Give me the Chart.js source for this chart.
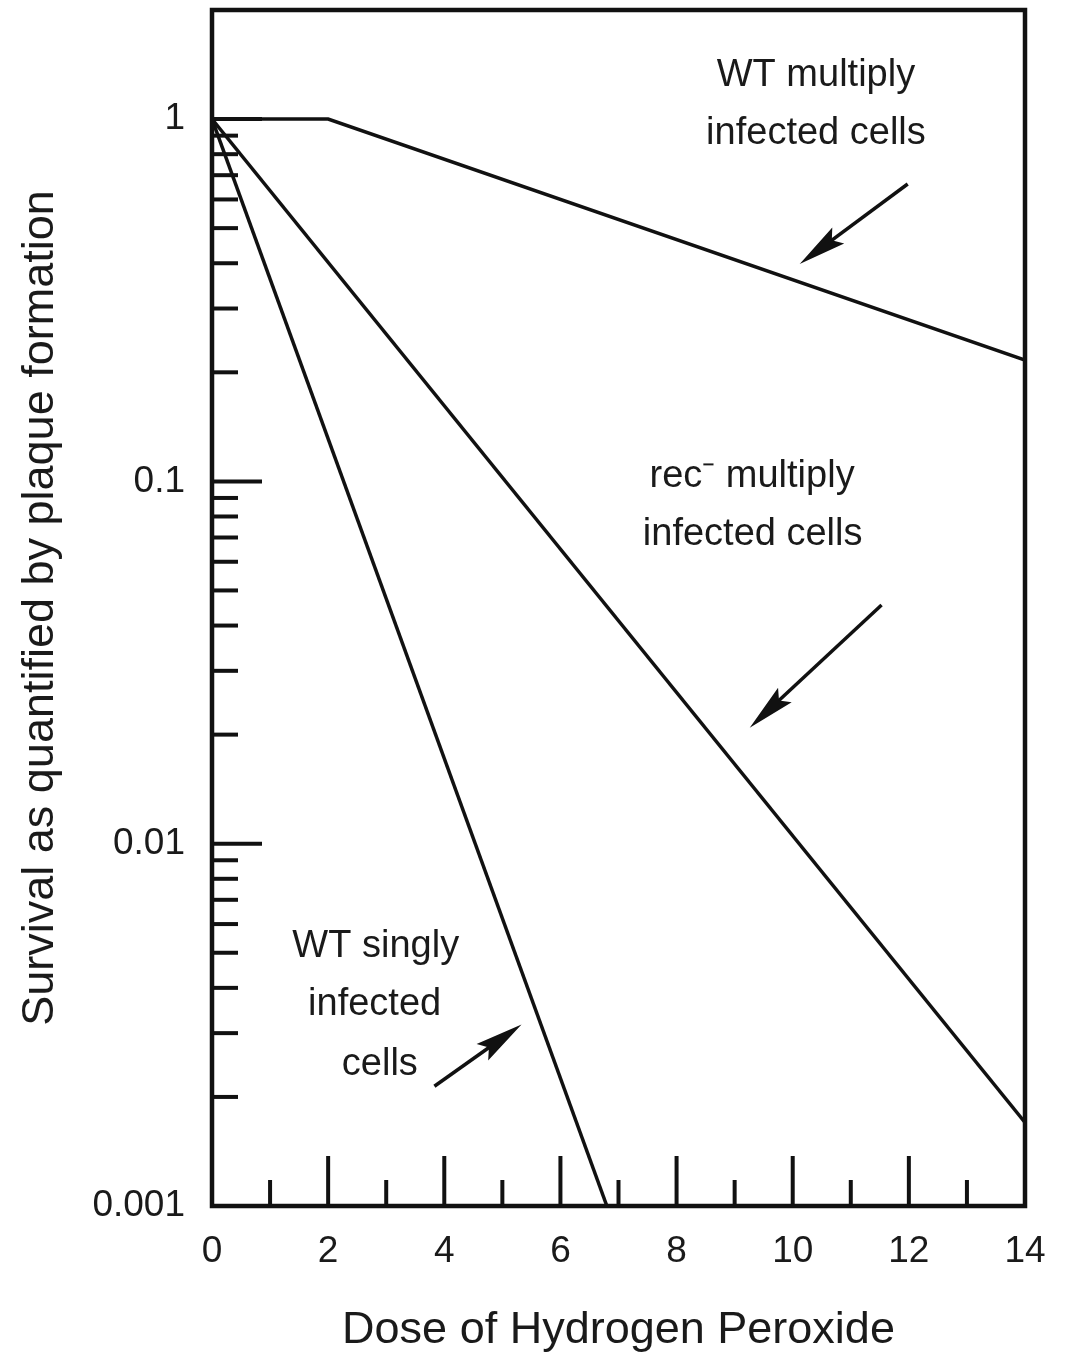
<!DOCTYPE html>
<html>
<head>
<meta charset="utf-8">
<script src="https://cdn.jsdelivr.net/npm/chart.js@4"></script>
<style>
  body { margin: 0; background: #fff; }
  #wrap { width: 1066px; height: 1358px; }
</style>
</head>
<body>
<div id="wrap"><canvas id="myChart"></canvas></div>
<script>
// data
const wtMultiDose = [0, 2, 14];
const wtMultiSurvival = [1, 1, 0.216];
const recDose = [0, 14];
const recSurvival = [1, 0.0017];
const wtSingleDose = [0, 6.8];
const wtSingleSurvival = [1, 0.001];

const xTickLabels = [0, 2, 4, 6, 8, 10, 12, 14];
const yTickLabels = [0.001, 0.01, 0.1, 1];
const xMinorTicks = [1, 3, 5, 7, 9, 11, 13];

// annotations, in data coordinates (dose, survival)
const notes = [
  { lines: ['WT multiply', 'infected cells'], at: [[10.4, 1.32], [10.4, 0.915]] },
  { lines: ['rec\u207B multiply', 'infected cells'], at: [[9.3, 0.103], [9.31, 0.0712]] },
  { lines: ['WT singly', 'infected', 'cells'], at: [[2.82, 0.0052], [2.8, 0.0036], [2.89, 0.00246]] }
];
const arrows = [
  { from: [11.98, 0.662], to: [10.12, 0.398] },
  { from: [11.53, 0.0456], to: [9.26, 0.0209] },
  { from: [3.83, 0.00214], to: [5.33, 0.00317] }
];

const toPoints = (xs, ys) => xs.map((v, i) => ({ x: v, y: ys[i] }));

// frame, inward ticks, labels and arrows
const framePlugin = {
  id: 'frame',
  afterDraw(chart) {
    const { ctx, chartArea: a, scales: { x, y } } = chart;
    ctx.save();
    ctx.strokeStyle = '#111';
    ctx.lineCap = 'butt';

    ctx.lineWidth = 4;
    const tick = (x1, y1, x2, y2) => { ctx.beginPath(); ctx.moveTo(x1, y1); ctx.lineTo(x2, y2); ctx.stroke(); };

    xTickLabels.slice(1, -1).forEach(v => { const px = x.getPixelForValue(v); tick(px, a.bottom, px, a.bottom - 50); });
    xMinorTicks.forEach(v => { const px = x.getPixelForValue(v); tick(px, a.bottom, px, a.bottom - 26); });

    yTickLabels.slice(1).forEach(v => { const py = y.getPixelForValue(v); tick(a.left, py, a.left + 50, py); });
    [0.001, 0.01, 0.1].forEach(d => {
      for (let k = 2; k <= 9; k++) {
        const py = y.getPixelForValue(d * k);
        tick(a.left, py, a.left + 26, py);
      }
    });

    ctx.lineWidth = 4.5;
    ctx.strokeRect(a.left, a.top, a.right - a.left, a.bottom - a.top);

    // text notes
    ctx.fillStyle = '#1a1a1a';
    ctx.font = '38px "Liberation Sans", Arial, sans-serif';
    ctx.textAlign = 'center';
    ctx.textBaseline = 'middle';
    notes.forEach(n => n.lines.forEach((t, i) => {
      ctx.fillText(t, x.getPixelForValue(n.at[i][0]), y.getPixelForValue(n.at[i][1]));
    }));

    // arrows
    ctx.fillStyle = '#111';
    ctx.lineWidth = 3.5;
    arrows.forEach(ar => {
      const x1 = x.getPixelForValue(ar.from[0]), y1 = y.getPixelForValue(ar.from[1]);
      const x2 = x.getPixelForValue(ar.to[0]), y2 = y.getPixelForValue(ar.to[1]);
      const ang = Math.atan2(y2 - y1, x2 - x1);
      const c = Math.cos(ang), s = Math.sin(ang);
      const len = 48, half = 10;
      const bx = x2 - len * c, by = y2 - len * s;
      tick(x1, y1, x2 - 20 * c, y2 - 20 * s);
      ctx.beginPath();
      ctx.moveTo(x2, y2);
      ctx.lineTo(bx + half * s, by - half * c);
      ctx.lineTo(x2 - (len - 8) * c, y2 - (len - 8) * s);
      ctx.lineTo(bx - half * s, by + half * c);
      ctx.closePath();
      ctx.fill();
    });
    ctx.restore();
  }
};

const lineStyle = {
  borderColor: '#111',
  borderWidth: 3.5,
  pointRadius: 0,
  fill: false,
  tension: 0
};

const ctx = document.getElementById('myChart');
new Chart(ctx, {
  type: 'line',
  data: {
    datasets: [
      { label: 'WT multiply infected cells', data: toPoints(wtMultiDose, wtMultiSurvival), ...lineStyle },
      { label: 'rec- multiply infected cells', data: toPoints(recDose, recSurvival), ...lineStyle },
      { label: 'WT singly infected cells', data: toPoints(wtSingleDose, wtSingleSurvival), ...lineStyle }
    ]
  },
  options: {
    responsive: true,
    maintainAspectRatio: false,
    animation: false,
    layout: { padding: { top: 10, right: 41, left: 0, bottom: 0 } },
    plugins: {
      legend: { display: false },
      tooltip: { enabled: false }
    },
    scales: {
      x: {
        type: 'linear',
        min: 0,
        max: 14,
        grid: { display: false, drawTicks: false },
        border: { display: false },
        afterBuildTicks: s => { s.ticks = xTickLabels.map(v => ({ value: v })); },
        afterFit: s => { s.height = 152; s.paddingLeft = 0; s.paddingRight = 0; },
        ticks: {
          color: '#1a1a1a',
          padding: 24,
          font: { family: '"Liberation Sans", Arial, sans-serif', size: 37 }
        },
        title: {
          display: true,
          text: 'Dose of Hydrogen Peroxide',
          color: '#1a1a1a',
          padding: { top: 0, bottom: 0 },
          font: { family: '"Liberation Sans", Arial, sans-serif', size: 45 }
        }
      },
      y: {
        type: 'logarithmic',
        min: 0.001,
        max: 2,
        grid: { display: false, drawTicks: false },
        border: { display: false },
        afterBuildTicks: s => { s.ticks = yTickLabels.map(v => ({ value: v })); },
        afterFit: s => { s.width = 212; s.paddingTop = 0; s.paddingBottom = 0; },
        ticks: {
          color: '#1a1a1a',
          padding: 27,
          callback: v => String(v),
          font: { family: '"Liberation Sans", Arial, sans-serif', size: 37 }
        },
        title: {
          display: true,
          text: 'Survival as quantified by plaque formation',
          color: '#1a1a1a',
          padding: { top: 14, bottom: 0 },
          font: { family: '"Liberation Sans", Arial, sans-serif', size: 45 }
        }
      }
    }
  },
  plugins: [framePlugin]
});
</script>
</body>
</html>
